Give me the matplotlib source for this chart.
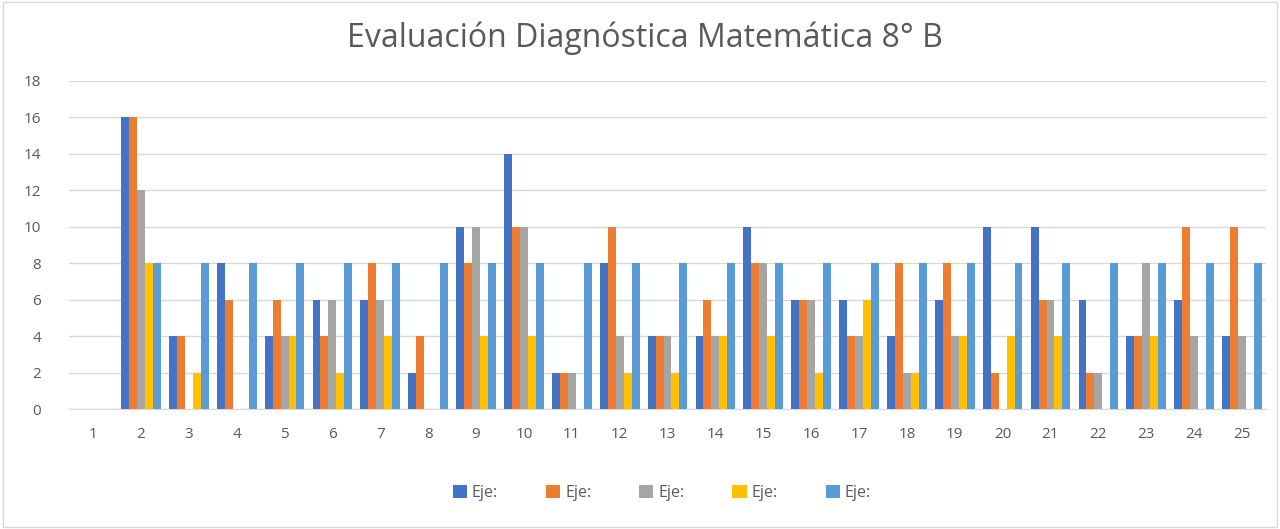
import matplotlib
matplotlib.use("Agg")
import matplotlib.pyplot as plt
import numpy as np
from matplotlib.patches import Rectangle

categories = [str(i) for i in range(1, 26)]
eje1 = [0, 16, 4, 8, 4, 6, 6, 2, 10, 14, 2, 8, 4, 4, 10, 6, 6, 4, 6, 10, 10, 6, 4, 6, 4]
eje2 = [0, 16, 4, 6, 6, 4, 8, 4, 8, 10, 2, 10, 4, 6, 8, 6, 4, 8, 8, 2, 6, 2, 4, 10, 10]
eje3 = [0, 12, 0, 0, 4, 6, 6, 0, 10, 10, 2, 4, 4, 4, 8, 6, 4, 2, 4, 0, 6, 2, 8, 4, 4]
eje4 = [0, 8, 2, 0, 4, 2, 4, 0, 4, 4, 0, 2, 2, 4, 4, 2, 6, 2, 4, 4, 4, 0, 4, 0, 0]
eje5 = [0, 8, 8, 8, 8, 8, 8, 8, 8, 8, 8, 8, 8, 8, 8, 8, 8, 8, 8, 8, 8, 8, 8, 8, 8]
series = [eje1, eje2, eje3, eje4, eje5]
labels = ["Eje:", "Eje:", "Eje:", "Eje:", "Eje:"]
colors = ["#4472C4", "#ED7D31", "#A5A5A5", "#FFC000", "#5B9BD5"]

plt.rcParams['font.family'] = ['Open Sans', 'DejaVu Sans']

fig = plt.figure(figsize=(12.8, 5.29), dpi=100)
ax = fig.add_axes([0.054, 0.2268, 0.935, 0.6202])

x = np.arange(len(categories))
w = 0.166
for i, (vals, lab, c) in enumerate(zip(series, labels, colors)):
    ax.bar(x + (i - 2) * w, vals, width=w, color=c, label=lab, zorder=3)

ax.set_xlim(-0.5, len(categories) - 0.5)
ax.set_ylim(0, 18)
ax.set_yticks(range(0, 19, 2))
ax.set_xticks(x)
ax.set_xticklabels(categories)
ax.grid(axis='y', color='#D9D9D9', linewidth=1, zorder=0)
for s in ['top', 'right', 'left']:
    ax.spines[s].set_visible(False)
ax.spines['bottom'].set_color('#D9D9D9')
ax.tick_params(axis='both', length=0, colors='#595959', labelsize=11)
ax.tick_params(axis='x', pad=13)
ax.tick_params(axis='y', pad=20)

fig.text(0.504, 0.928, "Evaluación Diagnóstica Matemática 8° B", ha='center', va='center',
         fontsize=23, color='#595959')

leg = fig.legend(loc='center', bbox_to_anchor=(0.517, 0.068), ncol=5, frameon=False,
                 fontsize=11.5, handlelength=0.9, handleheight=0.9, columnspacing=3.0,
                 handletextpad=0.3, labelcolor='#595959')

fig.patches.append(Rectangle((0.002, 0.003), 0.996, 0.994, transform=fig.transFigure,
                             fill=False, edgecolor='#D9D9D9', linewidth=1))

fig.savefig("out.png", dpi=100, facecolor='white')
